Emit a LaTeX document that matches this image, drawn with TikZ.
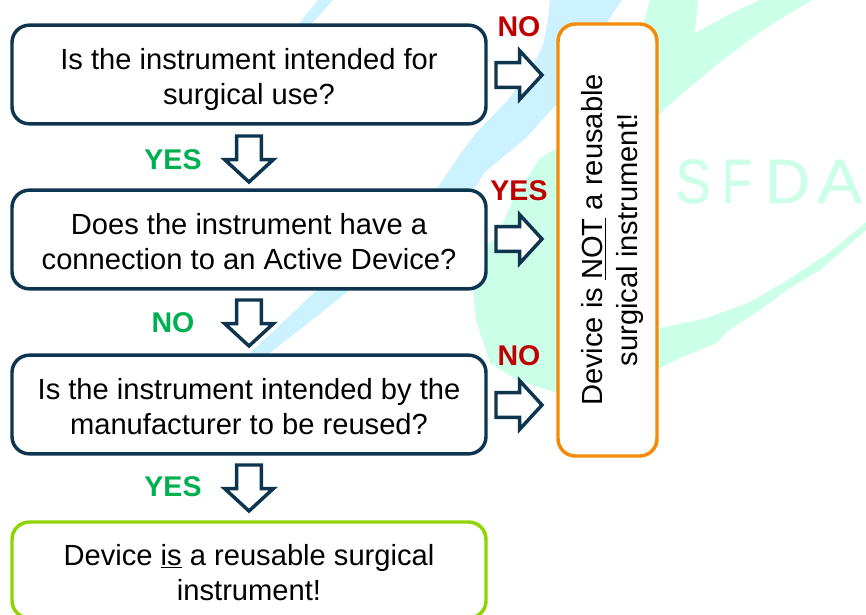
\documentclass[tikz,border=0pt]{standalone}
\usepackage{fontspec}
\setmainfont{Liberation Sans}
\usetikzlibrary{shapes.arrows}
\definecolor{navy}{HTML}{0E3550}
\definecolor{wmblue}{HTML}{CCF1FF}
\definecolor{wmgreen}{HTML}{CCFFE8}
\definecolor{okgreen}{HTML}{00B050}
\definecolor{nored}{HTML}{C00000}
\definecolor{orangeb}{HTML}{F58A07}
\definecolor{limeb}{HTML}{8FD400}
\newcommand{\topstrut}{\rule{0pt}{22.5pt}}
\newcommand{\hitopstrut}{\rule{0pt}{24pt}}
\newcommand{\botstrut}{\rule[-4.5pt]{0pt}{4.5pt}}
\tikzset{
  flowbox/.style={draw=navy,fill=white,line width=2.6pt,rounded corners=13pt,minimum width=355.5pt,minimum height=74pt,align=center,inner sep=0pt,outer sep=0pt,
    font=\fontsize{21.85pt}{26.25pt}\selectfont},
  resultbox/.style={flowbox,draw=limeb,minimum height=72pt},
  sidebox/.style={flowbox,draw=orangeb,minimum width=324pt,minimum height=74.25pt,rotate=90},
  blockarrow/.style={shape=single arrow,draw=navy,fill=white,line width=2.6pt,line join=miter,inner sep=0pt,outer sep=0pt,
    single arrow head extend=9pt,single arrow tip angle=94.8,minimum height=34.5pt,minimum width=34pt,text width=16pt,text height=16pt,text depth=0pt,anchor=tail},
  rarrow/.style={blockarrow},
  darrow/.style={blockarrow,shape border rotate=270},
  yeslabel/.style={text=okgreen,font=\fontsize{21.4pt}{21.4pt}\selectfont\bfseries,inner sep=0pt},
  nolabel/.style={text=nored,font=\fontsize{21.4pt}{21.4pt}\selectfont\bfseries,inner sep=0pt}
}
\begin{document}
\begin{tikzpicture}[x=0.75pt,y=-0.75pt]
\useasboundingbox (0,0) rectangle (866,614);
\clip (0,0) rectangle (866,614);
% watermark
\fill[wmblue] (318,0)--(333,0)--(310,26)--(297,26)--cycle;
\fill[wmblue] (550,0)--(622,0)--(613,13)--(558,103)--(542,120)--(527,137)--(503,157)--(485,172)--(477,185)--(350,290)--(270,353)--(245,358)--(317,290)--(438,187)--(461,153)--(476,133)--(508,100)--(536,60)--(543,45)--(548,20)--cycle;
\fill[wmgreen] (650,0)--(698,0)--(695,33)--(732,13)--(760,0)--(812,0)--(787,15)--(760,32)--(720,62)--(683,93)--(658,115)--(557,148)--(540,158)--(513,200)--(497,237)--(487,245)--(470,280)--(473,290)--(476,320)--(490,363)--(517,380)--(557,393)--(600,393)--(660,368)--(680,358)--(717,343)--(726,332)--(760,310)--(787,290)--(820,270)--(847,247)--(866,230)--(866,222)--(830,252)--(783,283)--(748,303)--(707,318)--(660,328)--(620,300)--(620,60)--(643,24)--cycle;
\node[text=wmgreen,anchor=base west,inner sep=0pt,font=\fontsize{47pt}{47pt}\selectfont\addfontfeature{FakeBold=0.5}] (wm) at (675,203) {\scalebox{0.85}[1]{S}\kern8.4pt\scalebox{0.78}[1]{F}\kern9.75pt D\kern5.25pt\scalebox{1.08}[1]{A}};
% boxes
\node[flowbox] (q1) at (249,74.5) {\hitopstrut Is the instrument intended for\\surgical use?\botstrut};
\node[flowbox] (q2) at (249,239.5) {\topstrut Does the instrument have a\\connection to an Active Device?\botstrut};
\node[flowbox] (q3) at (249,404.5) {\topstrut Is the instrument intended by the\\manufacturer to be reused?\botstrut};
\node[resultbox] (r) at (249,570) {\hitopstrut Device \underline{is} a reusable surgical\\instrument!\botstrut};
\node[sidebox] (s) at (607.5,240) {\hitopstrut Device is \underline{NOT} a reusable\\surgical instrument!\botstrut};
% arrows
\node[rarrow] (a1) at (496,75) {};
\node[rarrow] (a2) at (496,239) {};
\node[rarrow] (a3) at (496,405) {};
\node[darrow] (d1) at (249,136) {};
\node[darrow] (d2) at (249,300) {};
\node[darrow] (d3) at (249,465) {};
% labels
\node[nolabel] (n1) at (519,27) {NO};
\node[nolabel] (n2) at (519,191) {YES};
\node[nolabel] (n3) at (519,356) {NO};
\node[yeslabel] (y1) at (173,160) {YES};
\node[yeslabel] (y2) at (173,323) {NO};
\node[yeslabel] (y3) at (173,487) {YES};
\end{tikzpicture}
\end{document}
